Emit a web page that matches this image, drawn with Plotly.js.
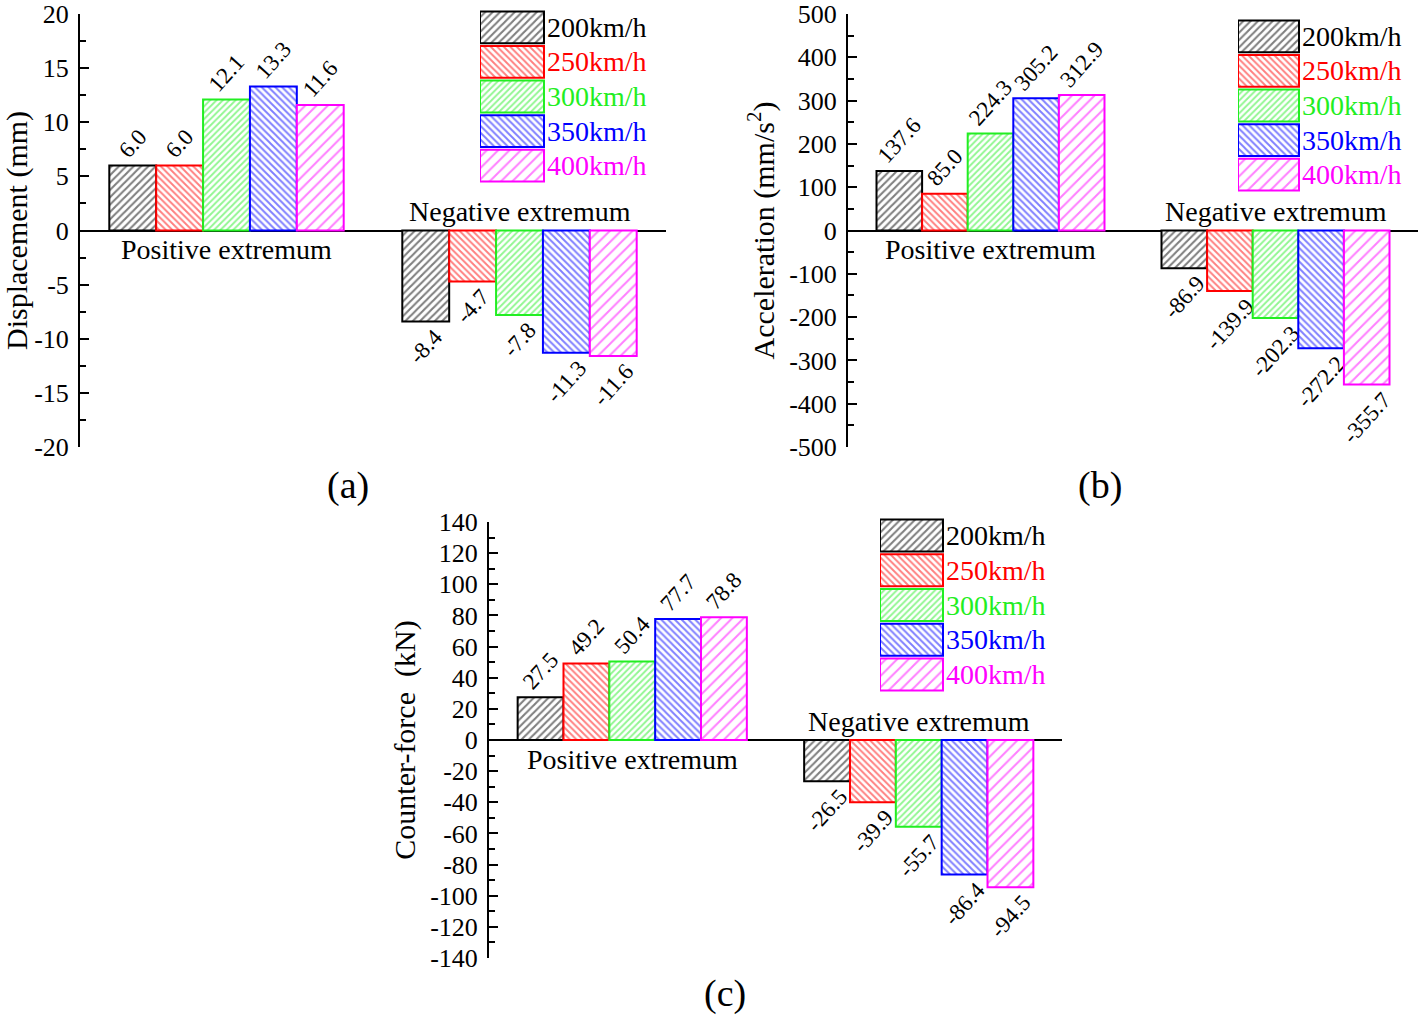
<!DOCTYPE html>
<html>
<head>
<meta charset="utf-8">
<script src="https://cdn.plot.ly/plotly-3.0.1.min.js"></script>
<style>html,body{margin:0;padding:0;background:#fff;}#chart{width:1421px;height:1020px;}</style>
</head>
<body>
<div id="chart"></div>
<script>
// ---- data ----
const categories = ["Positive extremum", "Negative extremum"];
const speeds = ["200km/h", "250km/h", "300km/h", "350km/h", "400km/h"];

const displacementPos = [6.0, 6.0, 12.1, 13.3, 11.6];
const displacementNeg = [-8.4, -4.7, -7.8, -11.3, -11.6];

const accelerationPos = [137.6, 85.0, 224.3, 305.2, 312.9];
const accelerationNeg = [-86.9, -139.9, -202.3, -272.2, -355.7];

const forcePos = [27.5, 49.2, 50.4, 77.7, 78.8];
const forceNeg = [-26.5, -39.9, -55.7, -86.4, -94.5];

const displacementTicks = [20, 15, 10, 5, 0, -5, -10, -15, -20];
const accelerationTicks = [500, 400, 300, 200, 100, 0, -100, -200, -300, -400, -500];
const forceTicks = [140, 120, 100, 80, 60, 40, 20, 0, -20, -40, -60, -80, -100, -120, -140];

const panelLabels = ["(a)", "(b)", "(c)"];
const yTitles = ["Displacement (mm)", "Acceleration (mm/s<sup>2</sup>)", "Counter-force  (kN)"];

// ---- styles ----
const colors = ["#000000", "#ff0000", "#22ee22", "#0000ff", "#ff00ff"];
const shapes = ["/", "\\", "/", "\\", "/"];
const psize = [5.2, 4.6, 4.5, 4.8, 8.0];
const psolid = [0.4, 0.42, 0.42, 0.4, 0.25];
const FONT = "Liberation Serif, Times New Roman, serif";

const W = 1421, H = 1020;
const px = v => v / W;
const py = v => 1 - v / H;

const panels = [
  {pos: displacementPos, neg: displacementNeg, ticks: displacementTicks, minor: 2.5,
   xdom: [px(80), px(666)], ydom: [py(447), py(14)],
   leg: {x0: 480, x1: 665, box: 64, y0: 10, y1: 183}},
  {pos: accelerationPos, neg: accelerationNeg, ticks: accelerationTicks, minor: 50,
   xdom: [px(848), px(1418)], ydom: [py(447), py(14)],
   leg: {x0: 1238, x1: 1421, box: 61, y0: 19, y1: 192}},
  {pos: forcePos, neg: forceNeg, ticks: forceTicks, minor: 10,
   xdom: [px(489), px(1062)], ydom: [py(958), py(522)],
   leg: {x0: 880, x1: 1070, box: 63, y0: 518, y1: 692}}
];

const labelPos = [[348, 485], [1100, 485], [725, 993]];

const data = [];
const layout = {
  width: W, height: H,
  margin: {l: 0, r: 0, t: 0, b: 0},
  paper_bgcolor: "#fff", plot_bgcolor: "rgba(0,0,0,0)",
  showlegend: false,
  barmode: "group", bargap: 0.2, bargroupgap: 0,
  font: {family: FONT, color: "#000", size: 27},
  annotations: []
};

panels.forEach((p, k) => {
  const sx = k === 0 ? "" : String(k + 1);
  const xa = "x" + sx, ya = "y" + sx;
  speeds.forEach((s, i) => {
    const vals = [p.pos[i], p.neg[i]];
    data.push({
      type: "bar", xaxis: xa, yaxis: ya, name: s,
      x: categories, y: vals,
      text: vals.map(v => v.toFixed(1)),
      textposition: "outside", textangle: -48, constraintext: "none",
      cliponaxis: false,
      textfont: {family: FONT, size: 23, color: "#000"},
      marker: {color: "#fff",
        line: {color: colors[i], width: 2},
        pattern: {shape: shapes[i], fgcolor: colors[i], bgcolor: "#fff",
          size: psize[i], solidity: psolid[i], fillmode: "overlay"}},
      hoverinfo: "skip"
    });
  });
  const tv = p.ticks;
  layout["xaxis" + sx] = {
    domain: p.xdom, anchor: ya, type: "category", range: [-0.5, 1.5],
    showline: false, showticklabels: false, ticks: "", showgrid: false, zeroline: false
  };
  layout["yaxis" + sx] = {
    domain: p.ydom, anchor: xa, range: [tv[tv.length - 1], tv[0]],
    tickvals: tv, ticktext: tv.map(v => String(v)),
    ticks: "inside", ticklen: 9, tickwidth: 2, tickcolor: "#000",
    minor: {ticks: "inside", ticklen: 6, tickwidth: 2, tickcolor: "#000", dtick: p.minor, tick0: 0, showgrid: false},
    showline: true, linewidth: 2, linecolor: "#000",
    showgrid: false, zeroline: true, zerolinecolor: "#000", zerolinewidth: 2,
    tickfont: {family: FONT, size: 26, color: "#000"},
    ticklabelstandoff: 4, ticklabeloverflow: "allow",
    title: {text: yTitles[k], font: {family: FONT, size: 30, color: "#000"}, standoff: 6},
    automargin: false
  };
  // category text annotations
  layout.annotations.push({xref: xa, yref: ya, x: categories[0], y: 0, yanchor: "top", yshift: -2,
    text: categories[0], showarrow: false, font: {family: FONT, size: 28, color: "#000"}});
  layout.annotations.push({xref: xa, yref: ya, x: categories[1], y: 0, yanchor: "bottom", yshift: 1,
    text: categories[1], showarrow: false, font: {family: FONT, size: 28, color: "#000"}});
  layout.annotations.push({xref: "paper", yref: "paper", x: px(labelPos[k][0]), y: py(labelPos[k][1]),
    xanchor: "center", yanchor: "middle", text: panelLabels[k], showarrow: false,
    font: {family: FONT, size: 38, color: "#000"}});

  // legend drawn as a small horizontal bar chart
  const lx = "x" + (k + 4), ly = "y" + (k + 4);
  const L = p.leg;
  data.push({
    type: "bar", orientation: "h", xaxis: lx, yaxis: ly,
    y: speeds, x: speeds.map(() => 1), width: 0.92,
    text: speeds, textposition: "outside", constraintext: "none", textangle: 0,
    cliponaxis: false,
    textfont: {family: FONT, size: 28, color: colors},
    marker: {color: "#fff", line: {color: colors, width: 2},
      pattern: {shape: shapes, fgcolor: colors, bgcolor: "#fff", size: psize, solidity: psolid, fillmode: "overlay"}},
    hoverinfo: "skip"
  });
  layout["xaxis" + (k + 4)] = {domain: [px(L.x0), px(L.x1)], anchor: ly, range: [0, (L.x1 - L.x0) / L.box],
    visible: false, fixedrange: true};
  layout["yaxis" + (k + 4)] = {domain: [py(L.y1), py(L.y0)], anchor: lx, type: "category",
    range: [speeds.length - 0.5, -0.5], visible: false, fixedrange: true};
});

Plotly.newPlot("chart", data, layout, {staticPlot: true});
</script>
</body>
</html>
